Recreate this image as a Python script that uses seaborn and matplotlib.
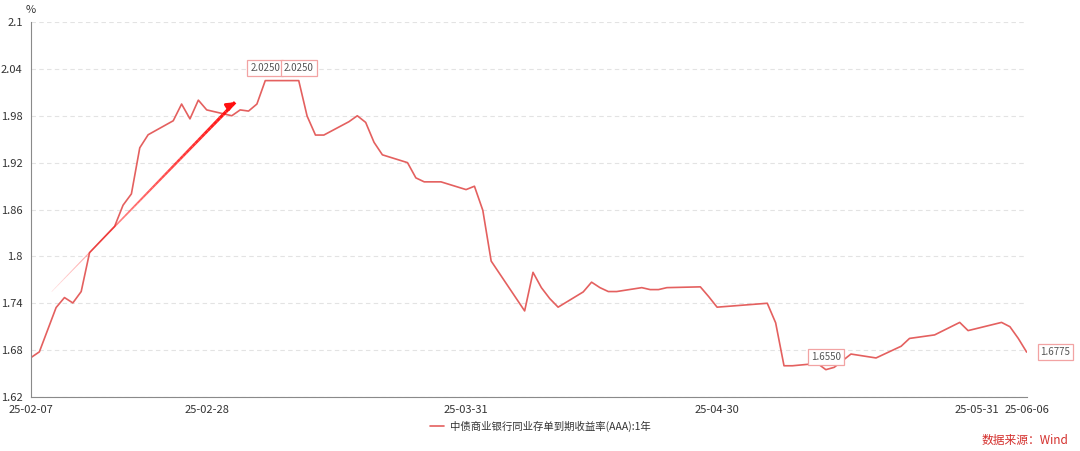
import pandas as pd
import numpy as np
import matplotlib
matplotlib.use("Agg")
import matplotlib.pyplot as plt
from matplotlib.collections import LineCollection
import seaborn as sns

# 数据
dates = ["2025-02-07", "2025-02-08", "2025-02-10", "2025-02-11", "2025-02-12", "2025-02-13",
         "2025-02-14", "2025-02-17", "2025-02-18", "2025-02-19", "2025-02-20", "2025-02-21",
         "2025-02-24", "2025-02-25", "2025-02-26", "2025-02-27", "2025-02-28", "2025-03-03",
         "2025-03-04", "2025-03-05", "2025-03-06", "2025-03-07", "2025-03-10", "2025-03-11",
         "2025-03-12", "2025-03-13", "2025-03-14", "2025-03-17", "2025-03-18", "2025-03-19",
         "2025-03-20", "2025-03-21", "2025-03-24", "2025-03-25", "2025-03-26", "2025-03-28",
         "2025-03-31", "2025-04-01", "2025-04-02", "2025-04-03", "2025-04-07", "2025-04-08",
         "2025-04-09", "2025-04-10", "2025-04-11", "2025-04-14", "2025-04-15", "2025-04-16",
         "2025-04-17", "2025-04-18", "2025-04-21", "2025-04-22", "2025-04-23", "2025-04-24",
         "2025-04-28", "2025-04-29", "2025-04-30", "2025-05-06", "2025-05-07", "2025-05-08",
         "2025-05-09", "2025-05-12", "2025-05-13", "2025-05-14", "2025-05-16", "2025-05-19",
         "2025-05-22", "2025-05-23", "2025-05-26", "2025-05-29", "2025-05-30", "2025-06-03",
         "2025-06-04", "2025-06-05", "2025-06-06"]
rates = [1.6705, 1.6778, 1.7345, 1.7473, 1.7404, 1.7550,
         1.8048, 1.8385, 1.8655, 1.8800, 1.9390, 1.9557,
         1.9736, 1.9950, 1.9760, 2.0000, 1.9875, 1.9800,
         1.9875, 1.9860, 1.9950, 2.0250, 2.0250, 2.0250,
         1.9796, 1.9553, 1.9553, 1.9724, 1.9800, 1.9715,
         1.9460, 1.9300, 1.9200, 1.9005, 1.8954, 1.8954,
         1.8855, 1.8898, 1.8590, 1.7940, 1.7302, 1.7796,
         1.7600, 1.7460, 1.7350, 1.7545, 1.7670, 1.7600,
         1.7550, 1.7550, 1.7600, 1.7575, 1.7575, 1.7600,
         1.7610, 1.7485, 1.7350, 1.7400, 1.7150, 1.6600,
         1.6600, 1.6630, 1.6550, 1.6580, 1.6750, 1.6700,
         1.6850, 1.6950, 1.6995, 1.7155, 1.7050, 1.7155,
         1.7100, 1.6950, 1.6775]
series_name = "中债商业银行同业存单到期收益率(AAA):1年"
label_dates = ["2025-03-07", "2025-03-11", "2025-05-13", "2025-06-06"]
xtick_dates = ["2025-02-07", "2025-02-28", "2025-03-31", "2025-04-30", "2025-05-31", "2025-06-06"]
yticks = [1.62, 1.68, 1.74, 1.8, 1.86, 1.92, 1.98, 2.04, 2.1]

df = pd.DataFrame({"date": pd.to_datetime(dates), "rate": rates})

sns.set_style("white")
plt.rcParams["font.family"] = ["Noto Sans CJK SC", "DejaVu Sans"]

line_color = "#e4605f"
fig = plt.figure(figsize=(10.8, 4.51), dpi=100)
ax = fig.add_axes([0.0287, 0.1197, 0.9219, 0.8315])

sns.lineplot(data=df, x="date", y="rate", ax=ax, color=line_color, linewidth=1.2,
             label=series_name, legend=False)

ax.set_xlim(pd.Timestamp(dates[0]), pd.Timestamp(dates[-1]))
ax.set_ylim(yticks[0], yticks[-1])
ax.set_yticks(yticks)
ax.set_yticklabels([f"{v:g}" for v in yticks])
xt = pd.to_datetime(xtick_dates)
ax.set_xticks(xt)
ax.set_xticklabels([d.strftime("%y-%m-%d") for d in xt])
ax.set_xlabel("")
ax.set_ylabel("")

ax.grid(axis="y", color="#e3e3e3", linestyle=(0, (4, 3)), linewidth=0.8)
ax.grid(axis="x", visible=False)
for s in ["top", "right"]:
    ax.spines[s].set_visible(False)
ax.spines["left"].set_color("#8a8a8a")
ax.spines["bottom"].set_color("#8a8a8a")
ax.tick_params(axis="both", direction="out", length=4, width=0.8, color="#8a8a8a",
               labelsize=8, labelcolor="#333333", pad=2)

# 数据标签
lab_df = df[df["date"].isin(pd.to_datetime(label_dates))]
box = dict(boxstyle="square,pad=0.3", fc="white", ec="#f2a3a3", lw=0.9)
for i, (d, v) in enumerate(zip(lab_df["date"], lab_df["rate"])):
    if i < len(lab_df) - 1:
        ax.annotate(f"{v:.4f}", (d, v), xytext=(0, 9), textcoords="offset points",
                    ha="center", va="center", fontsize=7, color="#555555", bbox=box)
    else:
        ax.annotate(f"{v:.4f}", (d, v), xytext=(10, 0), textcoords="offset points",
                    ha="left", va="center", fontsize=7, color="#555555", bbox=box,
                    annotation_clip=False)

# 渐变箭头
tail = np.array([0.0208, 0.281])
head = np.array([0.205, 0.786])
n = 60
pts = tail + (head - tail) * np.linspace(0, 1, n + 1)[:, None]
segs = np.stack([pts[:-1], pts[1:]], axis=1)
alphas = np.linspace(0.05, 1, n) ** 0.7
cols = [(1, 0.05, 0.05, a) for a in alphas]
lc = LineCollection(segs, colors=cols, linewidths=np.linspace(0.5, 2.4, n),
                    transform=ax.transAxes)
ax.add_collection(lc)
ax.annotate("", xy=(0.207, 0.790), xytext=(0.195, 0.770), xycoords="axes fraction",
            arrowprops=dict(arrowstyle="-|>", color="#ff1010", lw=2, mutation_scale=11))

fig.text(0.028, 0.978, "%", fontsize=8, color="#333333", ha="center", va="center")

handles, labels = ax.get_legend_handles_labels()
fig.legend(handles, labels, loc="center", bbox_to_anchor=(0.5, 0.055), frameon=False,
           fontsize=7.5, handlelength=1.4, handletextpad=0.5, labelcolor="#333333")

fig.text(0.989, 0.024, "数据来源：Wind", fontsize=8.5, color="#d42f2c", ha="right", va="center")

fig.savefig("out.png", dpi=100)
plt.close(fig)
